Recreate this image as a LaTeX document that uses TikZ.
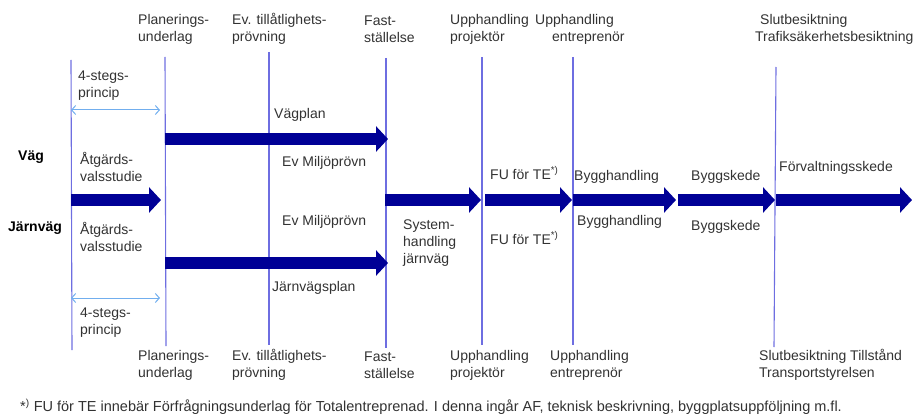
\documentclass[tikz,border=0pt]{standalone}
\usepackage{fontspec}
\setmainfont{Liberation Sans}
\usepackage{tikz}
\usetikzlibrary{arrows.meta,positioning}
\definecolor{lineblue}{RGB}{110,110,225}
\definecolor{arrowblue}{RGB}{0,0,150}
\definecolor{textgrey}{RGB}{50,50,50}

\begin{document}
\begin{tikzpicture}[x=1pt,y=-1pt,
  txt/.style={inner sep=0pt,anchor=west,align=left,text=textgrey,
    font=\fontsize{14}{17}\selectfont},
  head/.style={txt,font=\fontsize{14}{17}\selectfont\bfseries,text=black},
  milestone/.style={draw=lineblue,line width=1.1pt},
  phase/.style={draw=arrowblue,line width=12pt,
    -{Triangle[length=12pt,width=25pt]}},
  stepsrange/.style={draw=lineblue!70!cyan!80!white,line width=1pt,
    {Straight Barb[length=4pt,width=9pt]}-{Straight Barb[length=4pt,width=9pt]}}]
  \useasboundingbox (0,0) rectangle (918,417);

  % milestone lines
  \coordinate (m0t) at (71,60);  \coordinate (m0b) at (72,350);
  \coordinate (m1t) at (165,57); \coordinate (m1b) at (166,346);
  \coordinate (m2t) at (269,52); \coordinate (m2b) at (269,345);
  \coordinate (m3t) at (386,58); \coordinate (m3b) at (386,348);
  \coordinate (m4t) at (482,57); \coordinate (m4b) at (482,345);
  \coordinate (m5t) at (573,57); \coordinate (m5b) at (573,345);
  \coordinate (m6t) at (776,67); \coordinate (m6b) at (774,347);
  \draw[milestone] (m0t) -- (m0b);
  \draw[milestone] (m1t) -- (m1b);
  \draw[milestone] (m2t) -- (m2b);
  \draw[milestone] (m3t) -- (m3b);
  \draw[milestone] (m4t) -- (m4b);
  \draw[milestone] (m5t) -- (m5b);
  \draw[milestone] (m6t) -- (m6b);

  % top labels
  \node[txt] (plan_t) at (138,29) {Planerings-\\underlag};
  \node[txt] (till_t) at (232,29) {Ev. tillåtlighets-\\prövning};
  \node[txt] (fast_t) at (364,29) {Fast-\\ställelse};
  \node[txt] (upp_p_t) at (450,29) {Upphandling\\projektör};
  \node[txt] (upp_e_t) at (535,29) {Upphandling\\\hspace*{17pt}entreprenör};
  \node[txt] (slut_t) at (755,29) {\hspace*{5pt}Slutbesiktning\\Trafiksäkerhetsbesiktning};

  % bottom labels
  \node[txt] (plan_b) at (138,365) {Planerings-\\underlag};
  \node[txt] (till_b) at (232,365) {Ev. tillåtlighets-\\prövning};
  \node[txt] (fast_b) at (364,365) {Fast-\\ställelse};
  \node[txt] (upp_p_b) at (450,365) {Upphandling\\projektör};
  \node[txt] (upp_e_b) at (550,365) {Upphandling\\entreprenör};
  \node[txt] (slut_b) at (759,365) {Slutbesiktning Tillstånd\\Transportstyrelsen};

  % 4-stegsprincip
  \node[txt] (steg_t) at (78,86) {4-stegs-\\princip};
  \coordinate (sr0t) at (71,110); \coordinate (sr1t) at (160,110);
  \draw[stepsrange] (sr0t) -- (sr1t);
  \coordinate (sr0b) at (71,298); \coordinate (sr1b) at (160,298);
  \draw[stepsrange] (sr0b) -- (sr1b);
  \node[txt] (steg_b) at (80,323) {4-stegs-\\princip};

  % rows
  \node[head] (vag) at (18,157) {Väg};
  \node[head] (jvag) at (8,228) {Järnväg};
  \node[txt] (atg_v) at (80,167) {Åtgärds-\\valsstudie};
  \node[txt] (atg_j) at (80,237) {Åtgärds-\\valsstudie};

  % phase arrows
  \coordinate (vp0) at (165,139); \coordinate (vp1) at (388,139);
  \coordinate (jp0) at (165,263); \coordinate (jp1) at (388,263);
  \coordinate (a0) at (71,200);   \coordinate (a1) at (161,200);
  \coordinate (sh0) at (385,200); \coordinate (sh1) at (481,200);
  \coordinate (fu0) at (485,200); \coordinate (fu1) at (572,200);
  \coordinate (bh0) at (573,200); \coordinate (bh1) at (676,200);
  \coordinate (bs0) at (678,200); \coordinate (bs1) at (775,200);
  \coordinate (fv0) at (776,200); \coordinate (fv1) at (912,200);
  \draw[phase] (vp0) -- (vp1);
  \draw[phase] (jp0) -- (jp1);
  \draw[phase] (a0) -- (a1);
  \draw[phase] (sh0) -- (sh1);
  \draw[phase] (fu0) -- (fu1);
  \draw[phase] (bh0) -- (bh1);
  \draw[phase] (bs0) -- (bs1);
  \draw[phase] (fv0) -- (fv1);

  % phase texts
  \node[txt] (vagplan) at (274,115) {Vägplan};
  \node[txt] (milj_v) at (282,163) {Ev Miljöprövn};
  \node[txt] (milj_j) at (282,222) {Ev Miljöprövn};
  \node[txt] (jvplan) at (272,288) {Järnvägsplan};
  \node[txt] (syst) at (403,243) {System-\\handling\\järnväg};
  \node[txt] (fu_v) at (490,173) {FU för TE\textsuperscript{*)}};
  \node[txt] (fu_j) at (490,238) {FU för TE\textsuperscript{*)}};
  \node[txt] (bh_v) at (574,177) {Bygghandling};
  \node[txt] (bh_j) at (577,222) {Bygghandling};
  \node[txt] (bs_v) at (691,177) {Byggskede};
  \node[txt] (bs_j) at (691,227) {Byggskede};
  \node[txt] (forv) at (779,168) {Förvaltningsskede};

  % footnote
  \node[txt,font=\fontsize{14.5}{17}\selectfont] (note) at (20,407) {*\textsuperscript{)} FU för TE innebär Förfrågningsunderlag för Totalentreprenad. I denna ingår AF, teknisk beskrivning, byggplatsuppföljning m.fl.};
\end{tikzpicture}
\end{document}
